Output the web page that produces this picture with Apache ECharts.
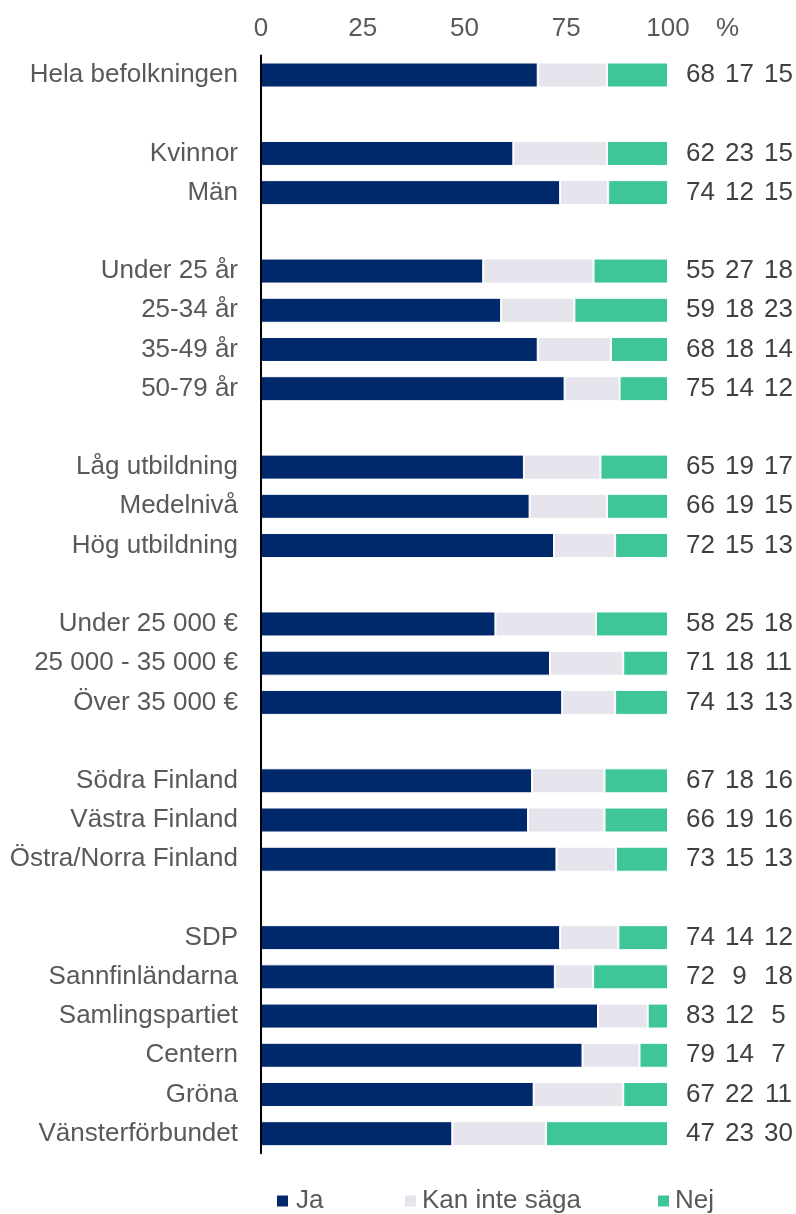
<!DOCTYPE html>
<html>
<head>
<meta charset="utf-8">
<script src="https://cdn.jsdelivr.net/npm/echarts@6/dist/echarts.min.js"></script>
<style>
html,body{margin:0;padding:0;background:#fff;}
#c{width:796px;height:1214px;}
</style>
</head>
<body>
<div id="c"></div>
<script>
const categories = ['Hela befolkningen', '', 'Kvinnor', 'Män', '', 'Under 25 år', '25-34 år', '35-49 år', '50-79 år', '',
  'Låg utbildning', 'Medelnivå', 'Hög utbildning', '', 'Under 25 000 €', '25 000 - 35 000 €', 'Över 35 000 €', '',
  'Södra Finland', 'Västra Finland', 'Östra/Norra Finland', '', 'SDP', 'Sannfinländarna', 'Samlingspartiet', 'Centern', 'Gröna', 'Vänsterförbundet'];

// bar lengths
const jaBar  = [68, null, 62, 73.5, null, 54.6, 59, 68, 74.6, null, 64.6, 66, 72, null, 57.6, 71, 74, null, 66.6, 65.6, 72.6, null, 73.5, 72.2, 82.8, 79, 67, 47];
const kanBar = [17, null, 23, 11.8, null, 27.1, 18, 18, 13.5, null, 18.8, 19, 15, null, 24.7, 18, 13, null, 17.8, 18.8, 14.6, null, 14.3, 9.4, 12.2, 14, 22, 23];
const nejBar = [15, null, 15, 14.7, null, 18.3, 23, 14, 11.9, null, 16.6, 15, 13, null, 17.7, 11, 13, null, 15.6, 15.6, 12.8, null, 12.2, 18.4, 5, 7, 11, 30];

// printed numbers at the right
const jaLabel  = [68, null, 62, 74, null, 55, 59, 68, 75, null, 65, 66, 72, null, 58, 71, 74, null, 67, 66, 73, null, 74, 72, 83, 79, 67, 47];
const kanLabel = [17, null, 23, 12, null, 27, 18, 18, 14, null, 19, 19, 15, null, 25, 18, 13, null, 18, 19, 15, null, 14, 9, 12, 14, 22, 23];
const nejLabel = [15, null, 15, 15, null, 18, 23, 14, 12, null, 17, 15, 13, null, 18, 11, 13, null, 16, 16, 13, null, 12, 18, 5, 7, 11, 30];

const xTicks = [0, 25, 50, 75, 100];
const seriesNames = ['Ja', 'Kan inte säga', 'Nej'];
const colors = ['#00296b', '#e6e4ec', '#3ec698'];

const FONT = "'Liberation Sans', Arial, sans-serif";
const chart = echarts.init(document.getElementById('c'), null, {renderer: 'canvas'});

const barStyle = (i) => ({
  name: seriesNames[i],
  type: 'bar',
  stack: 'total',
  barWidth: 25,
  yAxisIndex: 0,
  itemStyle: {color: colors[i], borderColor: '#ffffff', borderWidth: 1},
  emphasis: {disabled: true},
  data: [jaBar, kanBar, nejBar][i]
});

const legendLeft = [277, 405, 658];
const legends = seriesNames.map((n, i) => ({
  data: [n], left: legendLeft[i], top: 1188, orient: 'horizontal', padding: 0,
  icon: 'rect', itemWidth: 11, itemHeight: 11,
  itemStyle: {borderWidth: 0},
  textStyle: {fontSize: 26, color: '#595959', fontFamily: FONT, padding: i === 0 ? [0, 0, 0, 3] : [0, 0, 0, 1]},
  selectedMode: false
}));

chart.setOption({
  animation: false,
  backgroundColor: '#ffffff',
  textStyle: {fontFamily: FONT},
  grid: {left: 261, right: 128, top: 55.4, bottom: 60.7, containLabel: false, outerBoundsMode: 'none'},
  xAxis: {
    type: 'value', position: 'top', min: 0, max: 100, interval: 25,
    axisLine: {show: false}, axisTick: {show: false}, splitLine: {show: false},
    axisLabel: {fontSize: 26, color: '#595959', margin: 14, fontFamily: FONT,
      formatter: v => xTicks.includes(v) ? String(v) : ''},
    name: '%', nameLocation: 'end', nameGap: 48,
    nameTextStyle: {fontSize: 26, color: '#595959', fontFamily: FONT, verticalAlign: 'bottom', padding: [0, 0, 14, 0]}
  },
  yAxis: [{
    type: 'category', inverse: true, data: categories, z: 10,
    axisLine: {show: true, lineStyle: {color: '#000000', width: 2}},
    axisTick: {show: false}, splitLine: {show: false},
    axisLabel: {interval: 0, fontSize: 26, color: '#595959', margin: 23, fontFamily: FONT}
  }, {
    type: 'category', inverse: true, data: categories, position: 'right',
    axisLine: {show: false}, axisTick: {show: false}, splitLine: {show: false},
    axisLabel: {
      interval: 0, margin: 13, fontFamily: FONT,
      formatter: function (v, idx) {
        if (jaLabel[idx] == null) return '';
        return '{a|' + jaLabel[idx] + '}{b|' + kanLabel[idx] + '}{c|' + nejLabel[idx] + '}';
      },
      rich: {
        a: {width: 39, align: 'center', fontSize: 26, color: '#404040', fontFamily: FONT},
        b: {width: 39, align: 'center', fontSize: 26, color: '#404040', fontFamily: FONT},
        c: {width: 39, align: 'center', fontSize: 26, color: '#404040', fontFamily: FONT}
      }
    }
  }],
  legend: legends,
  series: [barStyle(0), barStyle(1), barStyle(2)]
});
</script>
</body>
</html>
